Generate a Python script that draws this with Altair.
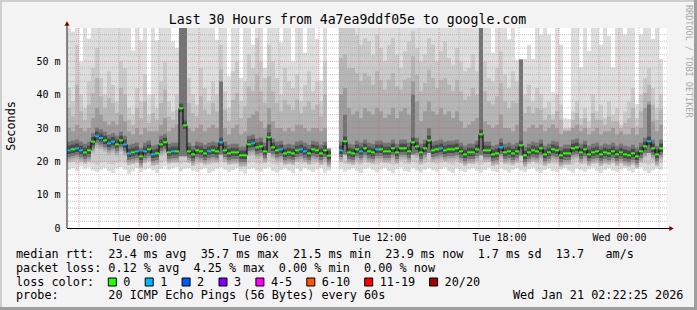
import json
import altair as alt
import pandas as pd

# ---------------- text ----------------
title_text = "Last 30 Hours from 4a7ea9ddf05e to google.com"
y_title = "Seconds"
watermark = "RRDTOOL / TOBI OETIKER"
x_tick_values = [0, 6, 12, 18, 24]          # hours after Tue 00:00
x_tick_labels = ["Tue 00:00", "Tue 06:00", "Tue 12:00", "Tue 18:00", "Wed 00:00"]
y_tick_values = [0, 10, 20, 30, 40, 50]
y_tick_labels = ["0", "10 m", "20 m", "30 m", "40 m", "50 m"]
legend_rtt = "median rtt:  23.4 ms avg  35.7 ms max  21.5 ms min  23.9 ms now  1.7 ms sd  13.7   am/s"
legend_loss = "packet loss: 0.12 % avg  4.25 % max  0.00 % min  0.00 % now"
legend_color = "loss color:"
legend_probe = "probe:       20 ICMP Echo Pings (56 Bytes) every 60s"
legend_time = "Wed Jan 21 02:22:25 2026"
loss_labels = ["0", "1", "2", "3", "4-5", "6-10", "11-19", "20/20"]
loss_colors = ["#26ff00", "#00b8ff", "#0059ff", "#7e00ff", "#ff00ff", "#ff5500", "#ff0000", "#a10000"]

# ---------------- data (ms), one value per 12-minute column ----------------
T0 = -3.6      # first column start, hours relative to Tue 00:00
STEP = 0.2     # 12 minutes
N = 150

median = [
    23.3, 23.6, 23.9, 23.3, 22.7, 23.3, 25.9, 27.5, 27.0, 26.3,
    25.4, 25.9, 25.1, 26.3, 25.1, 22.4, 22.7, 23.0, 21.5, 23.0,
    23.6, 22.1, 22.4, 25.1, 25.7, 22.7, 23.0, 23.0, 35.9, 30.8,
    23.0, 22.1, 23.3, 23.0, 22.4, 23.0, 23.3, 23.0, 25.7, 23.3,
    22.4, 22.7, 22.7, 21.8, 21.8, 25.1, 25.4, 24.2, 24.5, 23.0,
    27.2, 24.2, 23.3, 23.6, 22.4, 22.7, 22.4, 23.3, 23.6, 23.0,
    22.4, 23.6, 23.3, 22.4, 23.3, 21.7, None, None, 23.3, 26.0,
    22.7, 22.4, 23.6, 23.0, 23.9, 23.0, 22.7, 23.6, 23.6, 23.0,
    23.0, 23.9, 22.7, 23.9, 23.9, 23.0, 25.7, 24.5, 22.7, 23.9,
    26.3, 23.3, 23.6, 23.9, 23.3, 23.6, 23.6, 23.9, 23.0, 22.1,
    22.7, 22.7, 23.6, 28.1, 23.3, 23.3, 22.1, 22.4, 24.2, 22.7,
    23.0, 22.4, 23.0, 24.8, 21.8, 22.7, 23.3, 23.0, 23.9, 22.1,
    22.7, 23.6, 23.3, 21.8, 22.4, 22.4, 23.9, 24.2, 22.7, 23.6,
    22.1, 22.7, 23.0, 22.1, 22.7, 22.4, 23.0, 22.1, 22.7, 22.1,
    21.8, 22.4, 21.5, 23.0, 24.5, 26.0, 23.9, 22.1, 23.9, None,
]

loss = [
    1, 0, 1, 1, 0, 0, 0, 1, 1, 0,
    1, 1, 0, 0, 1, 1, 0, 1, 0, 1,
    0, 1, 0, 0, 0, 0, 1, 0, 0, 0,
    0, 0, 0, 0, 0, 1, 0, 0, 1, 0,
    0, 0, 0, 0, 0, 0, 1, 0, 0, 0,
    0, 0, 0, 1, 0, 0, 0, 0, 1, 1,
    0, 0, 0, 0, 0, 0, None, None, 1, 0,
    0, 0, 0, 1, 0, 0, 0, 1, 0, 0,
    0, 0, 0, 0, 0, 0, 0, 0, 0, 0,
    0, 0, 0, 1, 0, 0, 0, 0, 0, 0,
    0, 0, 0, 0, 0, 0, 0, 0, 1, 0,
    0, 0, 0, 0, 0, 0, 0, 0, 0, 0,
    0, 0, 0, 0, 0, 0, 0, 0, 0, 0,
    0, 0, 0, 0, 0, 0, 0, 0, 0, 0,
    0, 0, 0, 0, 0, 1, 0, 0, 0, None,
]

# outermost smoke (fastest / slowest pings)
smoke_lo = [
    17.5, 18.0, 17.0, 18.5, 17.8, 18.2, 17.2, 16.8, 17.5, 18.0,
    17.0, 16.5, 17.8, 18.3, 17.5, 16.2, 17.0, 18.0, 16.8, 17.5,
    18.0, 17.3, 16.5, 17.8, 18.5, 17.5, 18.0, 18.3, 17.0, 17.8,
    18.0, 17.2, 16.8, 17.5, 18.0, 16.5, 17.0, 17.8, 18.2, 17.5,
    16.8, 17.4, 18.0, 17.0, 16.3, 17.6, 18.0, 17.2, 16.9, 17.8,
    18.2, 17.0, 16.6, 17.4, 18.0, 17.2, 16.4, 17.8, 17.0, 18.0,
    17.3, 16.8, 17.5, 18.0, 16.6, 17.2, None, None, 17.8, 16.9,
    17.4, 18.0, 17.0, 16.5, 17.7, 18.1, 17.3, 16.7, 17.5, 18.0,
    17.1, 16.4, 17.6, 18.2, 17.0, 16.8, 17.9, 17.2, 16.6, 17.5,
    18.0, 17.3, 16.9, 17.6, 18.2, 17.0, 16.5, 17.8, 17.2, 16.8,
    17.5, 18.0, 17.1, 16.6, 17.4, 18.1, 17.0, 16.7, 17.8, 17.3,
    16.6, 17.5, 18.0, 17.2, 16.8, 17.6, 18.1, 17.0, 16.5, 17.4,
    17.9, 17.1, 16.7, 17.5, 18.0, 17.2, 16.6, 17.8, 17.3, 16.9,
    17.6, 18.1, 17.0, 16.5, 17.4, 17.9, 17.2, 16.8, 17.5, 18.0,
    17.1, 16.6, 17.7, 18.2, 17.0, 16.4, 17.3, 17.8, 17.5, None,
]
smoke_hi = [
    62, 58.9, 62, 49.8, 62, 56.8, 62, 62, 62, 62,
    62, 62, 62, 62, 62, 62, 53.3, 62, 56.3, 62,
    40.0, 62, 56.3, 62, 62, 62, 56.0, 54.0, 62, 62,
    62, 62, 62, 62, 62, 62, 62, 56.5, 62, 62,
    45.5, 62, 62, 45.0, 62, 62, 55.0, 62, 62, 48.0,
    62, 62, 62, 55.7, 62, 62, 50.0, 62, 62, 52.6,
    62, 62, 56.7, 44.2, 62, 23.8, None, None, 62, 62,
    62, 62, 62, 62, 62, 62, 62, 62, 62, 62,
    62, 62, 62, 62, 62, 62, 62, 62, 62, 62,
    62, 62, 62, 62, 62, 62, 62, 62, 62, 62,
    62, 62, 62, 62, 62, 62, 52.6, 62, 62, 62,
    56.6, 62, 50.5, 50.5, 50.7, 55.0, 50.7, 62, 58.0, 62,
    58.0, 40.7, 62, 55.0, 33.0, 32.7, 62, 62, 48.2, 62,
    53.2, 62, 62, 55.0, 62, 57.7, 48.2, 62, 62, 58.0,
    62, 62, 37.2, 58.0, 62, 62, 56.7, 62, 50.7, None,
]
# second smoke band
smoke_lo2 = [
    19.5, 19.8, 19.2, 20.0, 19.6, 19.9, 19.4, 19.0, 19.5, 19.8,
    19.3, 19.0, 19.6, 20.0, 19.5, 18.8, 19.2, 19.8, 19.0, 19.5,
    19.8, 19.4, 19.0, 19.6, 20.1, 19.5, 19.8, 20.0, 19.3, 19.7,
    19.8, 19.3, 19.1, 19.5, 19.9, 19.0, 19.3, 19.7, 20.0, 19.5,
    19.1, 19.4, 19.8, 19.2, 18.9, 19.6, 19.9, 19.4, 19.2, 19.7,
    20.0, 19.3, 19.0, 19.5, 19.8, 19.4, 18.9, 19.7, 19.3, 19.8,
    19.4, 19.1, 19.5, 19.8, 19.0, 19.4, None, None, 19.7, 19.2,
    19.5, 19.8, 19.3, 19.0, 19.6, 19.9, 19.4, 19.1, 19.5, 19.8,
    19.3, 19.0, 19.6, 20.0, 19.3, 19.1, 19.8, 19.4, 19.0, 19.5,
    19.8, 19.4, 19.2, 19.6, 20.0, 19.3, 19.0, 19.7, 19.4, 19.1,
    19.5, 19.8, 19.3, 19.0, 19.5, 19.9, 19.3, 19.1, 19.7, 19.4,
    19.0, 19.5, 19.8, 19.4, 19.1, 19.6, 19.9, 19.3, 19.0, 19.5,
    19.8, 19.3, 19.1, 19.5, 19.8, 19.4, 19.0, 19.7, 19.4, 19.2,
    19.6, 19.9, 19.3, 19.0, 19.5, 19.8, 19.4, 19.1, 19.5, 19.8,
    19.3, 19.0, 19.6, 20.0, 19.3, 19.0, 19.4, 19.7, 19.5, None,
]
smoke_hi2 = [
    42, 38, 55, 40, 36, 44, 48, 54, 45, 40,
    47, 43, 38, 50, 48, 36, 34, 42, 38, 46,
    34, 40, 36, 44, 50, 38, 35, 40, 62, 62,
    45, 40, 37, 48, 42, 38, 44, 40, 55, 41,
    36, 47, 50, 38, 44, 52, 48, 57, 50, 45,
    55, 50, 45, 40, 48, 44, 42, 46, 38, 43,
    47, 41, 44, 38, 50, 23, None, None, 62, 62,
    60, 62, 58, 55, 57, 56, 52, 58, 54, 50,
    55, 57, 52, 48, 53, 56, 59, 54, 50, 52,
    57, 55, 50, 53, 56, 51, 49, 54, 50, 47,
    48, 52, 47, 62, 50, 45, 44, 48, 53, 46,
    42, 47, 44, 55, 40, 43, 38, 42, 40, 36,
    38, 34, 40, 37, 30, 30, 35, 38, 33, 36,
    32, 40, 35, 37, 33, 38, 34, 36, 31, 35,
    38, 42, 33, 40, 45, 48, 42, 36, 40, None,
]
# third (middle) smoke band top
smoke_hi3 = [
    30, 29, 31, 30, 29, 30, 33, 36, 34, 32,
    31, 32, 31, 34, 32, 29, 28, 30, 28, 30,
    29, 29, 29, 31, 33, 29, 30, 31, 62, 62,
    30, 29, 30, 31, 29, 30, 31, 30, 40, 30,
    28, 30, 31, 28, 29, 33, 34, 35, 32, 30,
    36, 32, 30, 30, 29, 30, 29, 31, 31, 30,
    29, 30, 30, 29, 30, 22.5, None, None, 40, 42,
    36, 34, 35, 33, 36, 35, 34, 36, 35, 33,
    34, 36, 33, 35, 36, 34, 44, 38, 32, 35,
    38, 35, 34, 36, 34, 35, 33, 35, 32, 30,
    31, 32, 33, 62, 32, 31, 30, 31, 34, 30,
    30, 29, 31, 54, 29, 30, 31, 30, 31, 29,
    30, 31, 30, 28, 29, 29, 30, 31, 29, 30,
    28, 29, 30, 28, 29, 29, 30, 28, 29, 28,
    28, 30, 28, 30, 36, 38, 32, 29, 31, None,
]
# columns whose dark core reaches far (spikes)
spike_cols = [28, 29, 38, 50, 69, 86, 90, 103, 113, 145]
spike_lo = [21.5, 21.5, 22.0, 22.5, 22.0, 22.0, 22.5, 21.8, 21.8, 22.5]
spike_hi = [62, 62, 44, 31, 34, 40, 30, 62, 54, 37]

# ---------------- build tables ----------------
tiers = ["A", "B", "B2", "C", "D", "E"]
tier_colors = ["#dddddd", "#cacaca", "#b6b6b6", "#9c9c9c", "#747474", "#4a4a4a"]
spikes = {c: (lo_, hi_) for c, lo_, hi_ in zip(spike_cols, spike_lo, spike_hi)}

rows = []
for k in range(N):
    m = median[k]
    if m is None:
        continue
    t0 = T0 + k * STEP
    t1 = t0 + STEP
    top = smoke_hi[k]
    b_top = min(smoke_hi2[k], top)
    c_top = min(max(smoke_hi3[k], m + 3.0), top)
    b2_top = min((b_top + c_top) / 2, top)
    d_lo, d_hi = spikes.get(k, (m - 2.0, m + 2.6))
    d_hi = min(d_hi, top)
    bands = [
        ("A", smoke_lo[k], top),
        ("B", smoke_lo2[k], b_top),
        ("B2", m - 3.4, b2_top),
        ("C", m - 2.7, c_top),
        ("D", d_lo, d_hi),
        ("E", m - 1.1, min(m + 1.4, top)),
    ]
    for tier, y0, y1 in bands:
        rows.append({"t0": t0, "t1": t1, "tier": tier, "y0": y0, "y1": y1})
smoke_df = pd.DataFrame(rows)

med_df = pd.DataFrame([
    {"t0": T0 + k * STEP, "t1": T0 + (k + 1) * STEP,
     "ya": median[k] + 0.3, "yb": median[k] - 0.3, "loss": loss_labels[loss[k]]}
    for k in range(N) if median[k] is not None
])
conn_df = pd.DataFrame([
    {"tx": T0 + (k + 1) * STEP, "ya": median[k], "yb": median[k + 1]}
    for k in range(N - 1) if median[k] is not None and median[k + 1] is not None
])

hours = list(range(-3, 27))
vgrid_minor = pd.DataFrame({"h": [h for h in hours if h % 3 != 0]})
vgrid_major = pd.DataFrame({"h": [h for h in hours if h % 3 == 0]})
hgrid_minor = pd.DataFrame({"v": [v for v in range(2, 60, 2) if v % 10 != 0]})
hgrid_major = pd.DataFrame({"v": [10, 20, 30, 40, 50]})

# ---------------- scales / axes ----------------
MONO = "DejaVu Sans Mono"
xs = alt.Scale(domain=[T0, T0 + N * STEP], nice=False, zero=False)
ys = alt.Scale(domain=[0, 60], nice=False, zero=True)
x_axis = alt.Axis(values=x_tick_values, labelExpr=f"{json.dumps(x_tick_labels)}[round(datum.value/6)]",
                  grid=False, domain=False, ticks=False, tickSize=0, labelFont=MONO, labelFontSize=10,
                  labelColor="#000000", labelPadding=4, labelFlush=False, labelOverlap=False, title=None)
y_axis = alt.Axis(values=y_tick_values, labelExpr=f"{json.dumps(y_tick_labels)}[round(datum.value/10)]",
                  grid=False, domain=False, ticks=False, tickSize=0, labelFont=MONO, labelFontSize=10,
                  labelColor="#000000", labelPadding=7, title=None)


def X(field):
    return alt.X(field, type="quantitative", scale=xs, axis=x_axis)


def Y(field):
    return alt.Y(field, type="quantitative", scale=ys, axis=y_axis)


layers = []
for tier, col in zip(tiers, tier_colors):
    layers.append(
        alt.Chart(smoke_df).transform_filter(alt.datum.tier == tier)
        .mark_rect(color=col, clip=True, strokeWidth=0)
        .encode(x=X("t0"), x2="t1", y=Y("y0"), y2="y1")
    )

layers += [
    alt.Chart(vgrid_minor).mark_rule(color="#8c8c8c", opacity=0.5, strokeDash=[1, 1], strokeWidth=1)
    .encode(x=X("h")),
    alt.Chart(hgrid_minor).mark_rule(color="#8c8c8c", opacity=0.5, strokeDash=[1, 1], strokeWidth=1)
    .encode(y=Y("v")),
    alt.Chart(vgrid_major).mark_rule(color="#e05050", opacity=0.5, strokeDash=[1, 1], strokeWidth=1)
    .encode(x=X("h")),
    alt.Chart(hgrid_major).mark_rule(color="#e05050", opacity=0.5, strokeDash=[1, 1], strokeWidth=1)
    .encode(y=Y("v")),
    alt.Chart(conn_df).mark_rule(color="#000000", strokeWidth=1)
    .encode(x=X("tx"), y=Y("ya"), y2="yb"),
    alt.Chart(med_df).mark_rect(strokeWidth=0)
    .encode(x=X("t0"), x2="t1", y=Y("ya"), y2="yb",
            color=alt.Color("loss:N", scale=alt.Scale(domain=loss_labels, range=loss_colors), legend=None)),
]

one = alt.InlineData(values=[{"a": 1}])
OX, OY = 67, 28  # plot origin inside the 697x310 canvas


def box(x0, y0, x1, y1, fill, stroke=None):
    kw = dict(color=fill, strokeWidth=0)
    if stroke:
        kw = dict(fill=fill, stroke=stroke, strokeWidth=1)
    return alt.Chart(one).mark_rect(**kw).encode(
        x=alt.value(x0 - OX), x2=alt.value(x1 - OX), y=alt.value(y0 - OY), y2=alt.value(y1 - OY))


def text(s, x, y, size=11.8, align="left", baseline="alphabetic", angle=0, color="#000000"):
    return alt.Chart(one).mark_text(font=MONO, fontSize=size, align=align, baseline=baseline,
                                    angle=angle, color=color).encode(
        x=alt.value(x - OX), y=alt.value(y - OY), text=alt.value(s.replace(" ", "\u00a0")))


# axes lines and arrows
layers += [
    alt.Chart(one).mark_rule(color="#202020", strokeWidth=1).encode(
        x=alt.value(0), y=alt.value(200), y2=alt.value(-4)),
    alt.Chart(one).mark_rule(color="#000000", strokeWidth=1).encode(
        x=alt.value(0), x2=alt.value(605), y=alt.value(200.5)),
    alt.Chart(one).mark_point(shape="triangle-up", filled=True, color="#800000", size=26, opacity=1).encode(
        x=alt.value(0), y=alt.value(-4.5)),
    alt.Chart(one).mark_point(shape="triangle-right", filled=True, color="#800000", size=26, opacity=1).encode(
        x=alt.value(604.5), y=alt.value(200.5)),
]

# frame shading
layers += [
    box(0, 0, 697, 2, "#cecece"),
    box(0, 0, 2, 310, "#cecece"),
    box(0, 307, 697, 310, "#9e9e9e"),
    box(694, 0, 697, 310, "#9e9e9e"),
]

# texts
layers += [
    text(title_text, 347.5, 23.5, size=13.2, align="center"),
    text(y_title, 15, 126, angle=270, align="center"),
    text(watermark, 686, 5, size=8.5, angle=90, color="#a8a8a8"),
    text(legend_rtt, 16, 258),
    text(legend_loss, 16, 271.5),
    text(legend_color, 16, 285.5),
    text(legend_probe, 16, 299),
    text(legend_time, 513, 299),
]
bx = 108.3
for lab, col in zip(loss_labels, loss_colors):
    layers.append(box(bx, 278, bx + 8, 286, col, stroke="#000000"))
    layers.append(text(lab, bx + 15, 285.5))
    bx += 29.9 + 7.0 * len(lab)

chart = alt.layer(*layers).properties(
    width=600, height=200,
    autosize=alt.AutoSizeParams(type="none"),
    padding={"left": OX, "top": OY, "right": 30, "bottom": 82},
    background="#f3f3f3",
).configure_view(stroke=None, fill="#ffffff")

chart.save("out.html", embed_options={"renderer": "svg", "actions": False})
